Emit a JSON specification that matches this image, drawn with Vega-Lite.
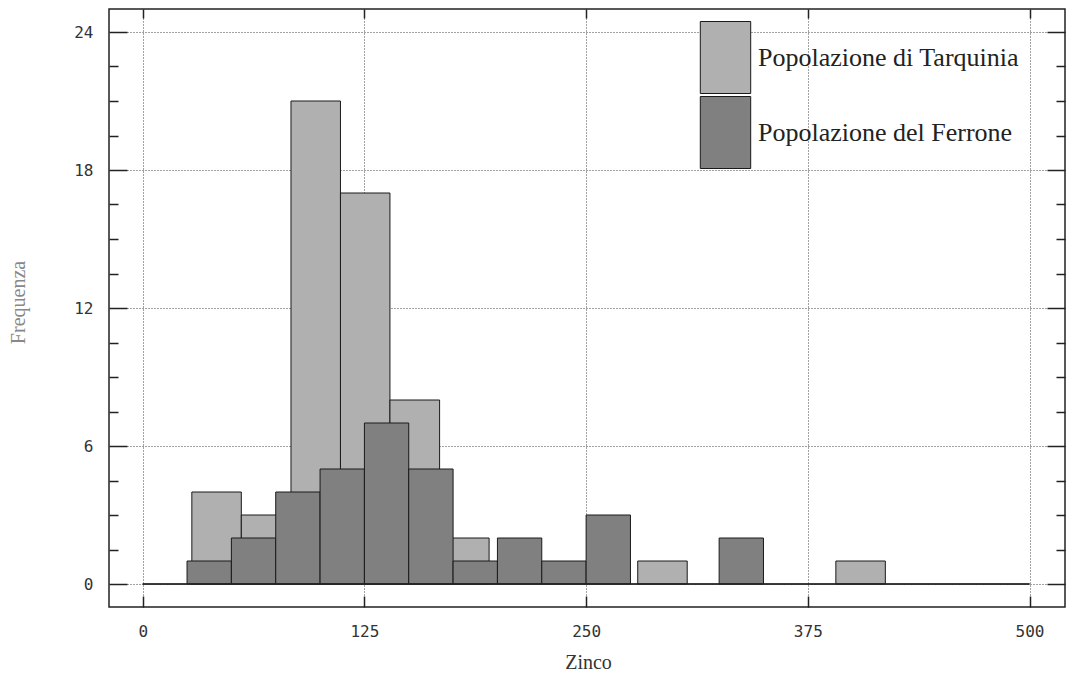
{
  "$schema": "https://vega.github.io/schema/vega-lite/v6.json",
  "width": 956,
  "height": 598,
  "autosize": "none",
  "padding": {"left": 109, "top": 9, "right": 8, "bottom": 69},
  "background": "white",
  "config": {
    "view": {"stroke": "#222", "strokeWidth": 1.5},
    "axis": {"domain": false}
  },
  "datasets": {
    "bins": [
      {"series": "Popolazione di Tarquinia", "start": 27.7, "end": 55.6, "count": 4},
      {"series": "Popolazione di Tarquinia", "start": 55.6, "end": 83.6, "count": 3},
      {"series": "Popolazione di Tarquinia", "start": 83.6, "end": 111.5, "count": 21},
      {"series": "Popolazione di Tarquinia", "start": 111.5, "end": 139.4, "count": 17},
      {"series": "Popolazione di Tarquinia", "start": 139.4, "end": 167.4, "count": 8},
      {"series": "Popolazione di Tarquinia", "start": 167.4, "end": 195.3, "count": 2},
      {"series": "Popolazione di Tarquinia", "start": 279.1, "end": 307.0, "count": 1},
      {"series": "Popolazione di Tarquinia", "start": 390.8, "end": 418.7, "count": 1},
      {"series": "Popolazione del Ferrone", "start": 25, "end": 50, "count": 1},
      {"series": "Popolazione del Ferrone", "start": 50, "end": 75, "count": 2},
      {"series": "Popolazione del Ferrone", "start": 75, "end": 100, "count": 4},
      {"series": "Popolazione del Ferrone", "start": 100, "end": 125, "count": 5},
      {"series": "Popolazione del Ferrone", "start": 125, "end": 150, "count": 7},
      {"series": "Popolazione del Ferrone", "start": 150, "end": 175, "count": 5},
      {"series": "Popolazione del Ferrone", "start": 175, "end": 200, "count": 1},
      {"series": "Popolazione del Ferrone", "start": 200, "end": 225, "count": 2},
      {"series": "Popolazione del Ferrone", "start": 225, "end": 250, "count": 1},
      {"series": "Popolazione del Ferrone", "start": 250, "end": 275, "count": 3},
      {"series": "Popolazione del Ferrone", "start": 325, "end": 350, "count": 2}
    ],
    "base": [{"x0": 0, "x1": 500, "y": 0}]
  },
  "resolve": {"axis": {"x": "independent", "y": "independent"}},
  "layer": [
    {
      "data": {"name": "bins"},
      "transform": [{"filter": "datum.series == 'Popolazione di Tarquinia'"}],
      "mark": {"type": "bar", "stroke": "#1a1a1a", "strokeWidth": 1},
      "encoding": {
        "x": {
          "field": "start", "type": "quantitative",
          "scale": {"domain": [-19, 520], "nice": false, "zero": false},
          "axis": {
            "orient": "bottom", "values": [0, 125, 250, 375, 500], "ticks": false,
            "grid": true, "gridDash": [1, 2], "gridColor": "#444", "gridWidth": 1,
            "labelFont": "DejaVu Sans Mono", "labelFontSize": 16, "labelColor": "#333",
            "labelPadding": 16,
            "title": "Zinco", "titleFont": "Liberation Serif", "titleFontSize": 20,
            "titleFontWeight": "normal", "titleColor": "#333",
            "titleX": 479, "titleY": 55, "titleAlign": "center", "titleBaseline": "middle"
          }
        },
        "x2": {"field": "end"},
        "y": {
          "field": "count", "type": "quantitative",
          "scale": {"domain": [-1, 25], "nice": false, "zero": false},
          "axis": {
            "orient": "left", "values": [0, 6, 12, 18, 24], "ticks": false,
            "grid": true, "gridDash": [1, 2], "gridColor": "#444", "gridWidth": 1,
            "labelFont": "DejaVu Sans Mono", "labelFontSize": 16, "labelColor": "#333",
            "labelPadding": 16,
            "title": "Frequenza", "titleFont": "Liberation Serif", "titleFontSize": 20,
            "titleFontWeight": "normal", "titleColor": "#888",
            "titleX": -91, "titleY": 293, "titleAlign": "center", "titleBaseline": "middle", "titleAngle": -90
          }
        },
        "y2": {"datum": 0},
        "fill": {
          "field": "series", "type": "nominal",
          "scale": {"domain": ["Popolazione di Tarquinia", "Popolazione del Ferrone"], "range": ["#b0b0b0", "#808080"]},
          "legend": {
            "orient": "none", "legendX": 580, "legendY": 12, "title": null,
            "symbolType": "M-0.7,-1H0.7V1H-0.7Z", "symbolSize": 5184,
            "symbolStrokeColor": "#222", "symbolStrokeWidth": 1,
            "labelFont": "Liberation Serif", "labelFontSize": 26, "labelColor": "#222",
            "labelOffset": -4, "labelLimit": 400, "rowPadding": -3, "padding": 0, "offset": 0
          }
        }
      }
    },
    {
      "data": {"name": "bins"},
      "transform": [{"filter": "datum.series == 'Popolazione del Ferrone'"}],
      "mark": {"type": "bar", "stroke": "#1a1a1a", "strokeWidth": 1},
      "encoding": {
        "x": {
          "field": "start", "type": "quantitative",
          "scale": {"domain": [-19, 520], "nice": false, "zero": false},
          "axis": {"orient": "bottom", "values": [0, 125, 250, 375, 500], "labels": false, "grid": false, "title": null, "tickSize": -11, "tickWidth": 1.5, "tickColor": "#222"}
        },
        "x2": {"field": "end"},
        "y": {
          "field": "count", "type": "quantitative",
          "scale": {"domain": [-1, 25], "nice": false, "zero": false},
          "axis": {"orient": "left", "values": [0, 6, 12, 18, 24], "labels": false, "grid": false, "title": null, "tickSize": -18, "tickWidth": 1.5, "tickColor": "#222"}
        },
        "y2": {"datum": 0},
        "fill": {"field": "series", "type": "nominal"}
      }
    },
    {
      "data": {"name": "base"},
      "mark": {"type": "rule", "color": "#222", "strokeWidth": 1.2},
      "encoding": {
        "x": {
          "field": "x0", "type": "quantitative",
          "scale": {"domain": [-19, 520], "nice": false, "zero": false},
          "axis": {"orient": "top", "values": [0, 125, 250, 375, 500], "labels": false, "grid": false, "title": null, "tickSize": -9, "tickWidth": 1.5, "tickColor": "#222"}
        },
        "x2": {"field": "x1"},
        "y": {
          "field": "y", "type": "quantitative",
          "scale": {"domain": [-1, 25], "nice": false, "zero": false},
          "axis": {"orient": "left", "values": [1.5, 3, 4.5, 7.5, 9, 10.5, 13.5, 15, 16.5, 19.5, 21, 22.5], "labels": false, "grid": false, "title": null, "tickSize": -9, "tickWidth": 1.5, "tickColor": "#222"}
        }
      }
    },
    {
      "data": {"name": "base"},
      "mark": {"type": "rule", "color": "#222", "strokeWidth": 1.2},
      "encoding": {
        "x": {
          "field": "x0", "type": "quantitative",
          "scale": {"domain": [-19, 520], "nice": false, "zero": false},
          "axis": null
        },
        "x2": {"field": "x1"},
        "y": {
          "field": "y", "type": "quantitative",
          "scale": {"domain": [-1, 25], "nice": false, "zero": false},
          "axis": {"orient": "right", "values": [0, 6, 12, 18, 24], "labels": false, "grid": false, "title": null, "tickSize": -18, "tickWidth": 1.5, "tickColor": "#222"}
        }
      }
    },
    {
      "data": {"name": "base"},
      "mark": {"type": "rule", "color": "#222", "strokeWidth": 1.2},
      "encoding": {
        "x": {
          "field": "x0", "type": "quantitative",
          "scale": {"domain": [-19, 520], "nice": false, "zero": false},
          "axis": null
        },
        "x2": {"field": "x1"},
        "y": {
          "field": "y", "type": "quantitative",
          "scale": {"domain": [-1, 25], "nice": false, "zero": false},
          "axis": {"orient": "right", "values": [1.5, 3, 4.5, 7.5, 9, 10.5, 13.5, 15, 16.5, 19.5, 21, 22.5], "labels": false, "grid": false, "title": null, "tickSize": -9, "tickWidth": 1.5, "tickColor": "#222"}
        }
      }
    }
  ]
}
